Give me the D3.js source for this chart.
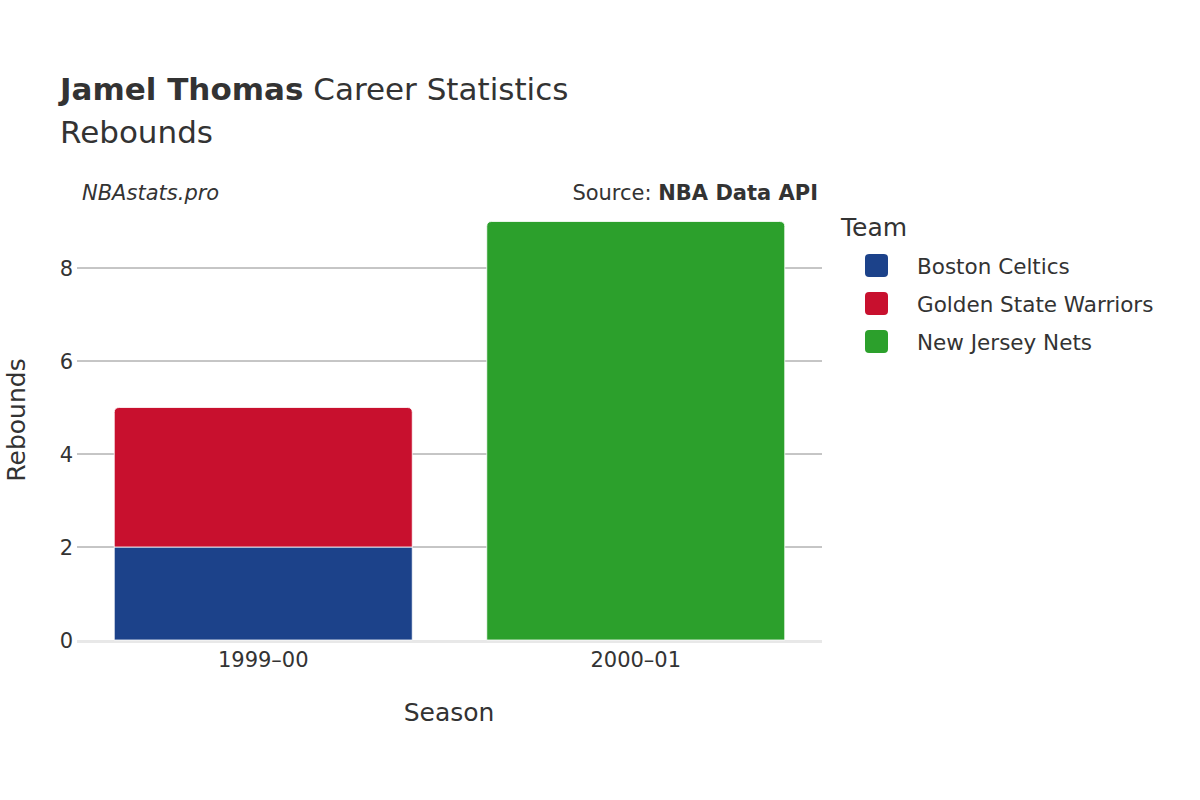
<!DOCTYPE html>
<html><head><meta charset="utf-8">
<script src="https://cdn.jsdelivr.net/npm/d3@7"></script>
<style>body{margin:0;background:#fff}text{font-family:"DejaVu Sans",sans-serif;fill:#333}</style>
</head><body><svg id="c" width="1200" height="800"></svg>
<script>
const seasons = ["1999–00", "2000–01"];
const teams = ["Boston Celtics", "Golden State Warriors", "New Jersey Nets"];
const colors = ["#1c428a", "#c8102e", "#2ca02c"];
const boston = [2, 0];
const gsw = [3, 0];
const njn = [0, 9];
const yTicks = [0, 2, 4, 6, 8];

const svg = d3.select("#c");
const x = d3.scaleBand().domain(seasons).range([77, 822]).paddingInner(0.2).paddingOuter(0.1);
const y = d3.scaleLinear().domain([0, 9]).range([640, 221.5]);

svg.append("g").selectAll("line").data(yTicks.filter(d => d > 0)).join("line")
  .attr("x1", 77).attr("x2", 822).attr("y1", d => y(d)).attr("y2", d => y(d))
  .attr("stroke", "#8c8c8c").attr("stroke-width", 1);
svg.append("line").attr("x1", 77).attr("x2", 822).attr("y1", y(0) + 1.5).attr("y2", y(0) + 1.5)
  .attr("stroke", "#e8e8e8").attr("stroke-width", 3);

const series = [boston, gsw, njn];
const stackData = [];
seasons.forEach((s, i) => {
  let base = 0;
  const vals = series.map(a => a[i]);
  const lastIdx = vals.reduce((m, v, k) => v > 0 ? k : m, -1);
  vals.forEach((v, k) => {
    if (v > 0) stackData.push({ s, k, y0: base, y1: base + v, top: k === lastIdx });
    base += v;
  });
});
function barPath(d) {
  const x0 = x(d.s), w = x.bandwidth(), yt = y(d.y1), yb = y(d.y0), r = d.top ? 5 : 0;
  return `M${x0},${yb}V${yt + r}Q${x0},${yt} ${x0 + r},${yt}H${x0 + w - r}Q${x0 + w},${yt} ${x0 + w},${yt + r}V${yb}Z`;
}
svg.append("g").selectAll("path").data(stackData).join("path")
  .attr("d", barPath).attr("fill", d => colors[d.k]).attr("stroke", "#fff").attr("stroke-width", 0.8);

svg.append("g").selectAll("text").data(yTicks).join("text")
  .attr("x", 73).attr("y", d => y(d) + 8).attr("text-anchor", "end").attr("font-size", 21).text(d => d);
svg.append("g").selectAll("text").data(seasons).join("text")
  .attr("x", d => x(d) + x.bandwidth() / 2).attr("y", 667).attr("text-anchor", "middle").attr("font-size", 21).text(d => d);
svg.append("text").attr("x", 449).attr("y", 721).attr("text-anchor", "middle").attr("font-size", 25).text("Season");
svg.append("text").attr("transform", "translate(25,420) rotate(-90)").attr("text-anchor", "middle").attr("font-size", 25).text("Rebounds");

const t = svg.append("text").attr("x", 60).attr("y", 100).attr("font-size", 31);
t.append("tspan").attr("font-weight", "bold").text("Jamel Thomas");
t.append("tspan").text(" Career Statistics");
svg.append("text").attr("x", 60).attr("y", 143).attr("font-size", 31).text("Rebounds");
svg.append("text").attr("x", 82).attr("y", 200).attr("font-size", 21).attr("font-style", "italic").text("NBAstats.pro");
const src = svg.append("text").attr("x", 818).attr("y", 200).attr("font-size", 21).attr("text-anchor", "end");
src.append("tspan").text("Source: ");
src.append("tspan").attr("font-weight", "bold").text("NBA Data API");

svg.append("text").attr("x", 841).attr("y", 236).attr("font-size", 25).text("Team");
const lg = svg.append("g").selectAll("g").data(teams).join("g")
  .attr("transform", (d, i) => `translate(865,${254 + i * 38})`);
lg.append("rect").attr("width", 23).attr("height", 23).attr("rx", 4).attr("fill", (d, i) => colors[i]);
lg.append("text").attr("x", 52).attr("y", 20).attr("font-size", 21.5).text(d => d);
</script></body></html>
